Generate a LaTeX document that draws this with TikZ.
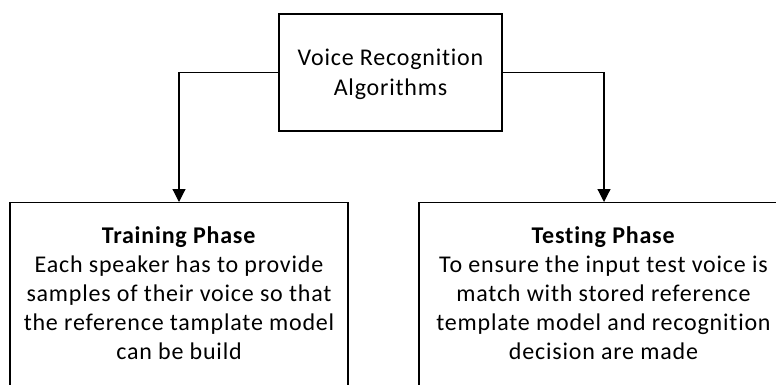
\documentclass[tikz,border=0pt]{standalone}
\usepackage{fontspec}
\setmainfont{Carlito}[Ligatures=NoCommon, LetterSpace=3.3]
\usetikzlibrary{arrows.meta}
\begin{document}
\begin{tikzpicture}[x=1pt,y=-1pt,
  box/.style={draw=black, line width=1.2pt, inner sep=0pt, anchor=north},
  txt/.style={align=center, font=\fontsize{24}{29}\selectfont, inner sep=0pt, anchor=north},
  arr/.style={-{Triangle[length=13pt,width=13pt]}, line width=1.2pt}]
\useasboundingbox (0,0) rectangle (776,385);
\clip (0,0) rectangle (776,385);
\node[box, minimum width=223pt, minimum height=117pt, anchor=center] (top) at (390.5,72.5) {};
\node[txt, anchor=center, font=\fontsize{24}{30}\selectfont] (toptxt) at (390.5,74.5) {Voice Recognition\\Algorithms};
\node[box, minimum width=338pt, minimum height=230pt] (train) at (179,202) {};
\node[txt] (traintxt) at (179,226) {\textbf{Training Phase}\\Each speaker has to provide\\samples of their voice so that\\the reference tamplate model\\can be build};
\node[box, minimum width=370pt, minimum height=230pt] (test) at (604,202) {};
\node[txt] (testtxt) at (603.5,226) {\textbf{Testing Phase}\\To ensure the input test voice is\\match with stored reference\\template model and recognition\\decision are made};
\draw[arr] (top.west) -| (train.north);
\draw[arr] (top.east) -| (test.north);
\end{tikzpicture}
\end{document}
